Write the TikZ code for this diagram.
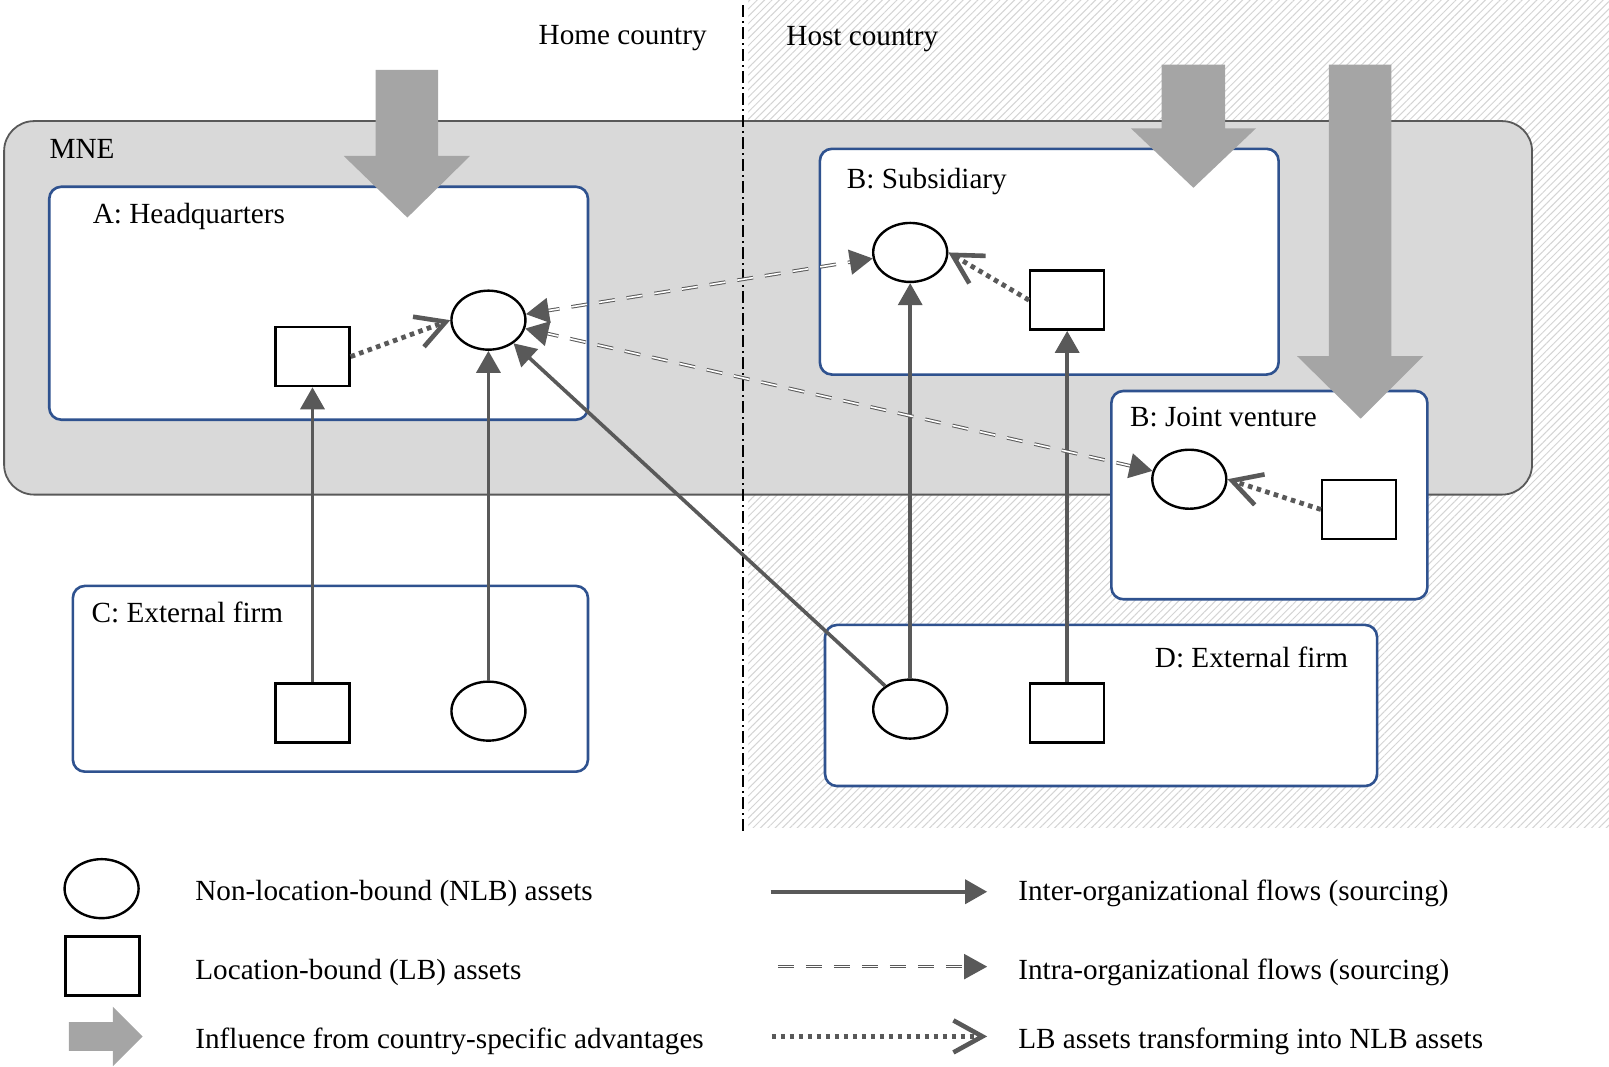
\documentclass[tikz,border=0pt]{standalone}
\usepackage{fontspec}
\setmainfont{Liberation Serif}
\usepackage{tikz}
\usetikzlibrary{shapes.geometric}
\usetikzlibrary{arrows.meta}
\usetikzlibrary{patterns.meta}
\usetikzlibrary{fit}
\usetikzlibrary{decorations.markings}
\definecolor{darkgrey}{RGB}{89,89,89}
\definecolor{midgrey}{RGB}{165,165,165}
\definecolor{lightgrey}{RGB}{217,217,217}
\definecolor{firmblue}{RGB}{47,82,143}
\tikzstyle{asset}=[draw=black, line width=1.2pt, fill=white, inner sep=0pt, minimum width=37pt, minimum height=29.5pt]
\tikzset{
  nlb/.style = {asset, ellipse},% non-location-bound
  lb/.style = {asset, rectangle},% location-bound
  firm/.style = {draw=firmblue, line width=1.3pt, fill=white, rounded corners=6pt, inner sep=0pt},
  mne/.style = {draw=darkgrey, line width=0.9pt, fill=lightgrey, rounded corners=15pt, inner sep=0pt},
  lbl/.style = {anchor=base west, inner sep=0pt},
  rlbl/.style = {anchor=base east, inner sep=0pt},
  csa/.style = {fill=midgrey},
  inter/.style = {draw=darkgrey, line width=1.8pt, -{Triangle[length=11pt,width=12pt]}},
  intra/.style = {draw=darkgrey, line width=0.5pt, double, double distance=0.8pt, dash pattern=on 8pt off 6pt, shorten >=9pt},
  intratip/.style = {postaction={decorate}, decoration={markings,
    mark=at position 1 with {\arrow[darkgrey, line width=1pt]{Triangle[length=11.5pt,width=12.5pt]}}}},
  trans/.style = {draw=darkgrey, line width=2.4pt, dash pattern=on 2.3pt off 2.2pt, -{Straight Barb[length=14.5pt,width=16pt,line width=2.3pt]}},
  country/.style = {draw=black, line width=0.6pt, dash pattern=on 6pt off 2pt on 1pt off 2pt},
}

\begin{document}
\begin{tikzpicture}[x=0.513pt, y=-0.513pt, font=\fontsize{14.6pt}{17pt}\selectfont]
\useasboundingbox (0,0) rectangle (1568,1039);

% host country background
\fill[pattern={Lines[angle=45, distance=2.6pt, line width=0.5pt]}, pattern color=black!17] (729,0) rectangle (1568,806);

% MNE
\node[mne, fit={(4,118) (1493,482)}] (mne) {};
\coordinate (ctop) at (724,5);
\coordinate (cbot) at (724,811);
\draw[country] (ctop) -- (cbot);

% firms
\node[firm, fit={(48,182) (573,409)}] (hq) {};
\node[firm, fit={(799,145) (1246,365)}] (sub) {};
\node[firm, fit={(1083,381) (1391,584)}] (jv) {};
\node[firm, fit={(71,571) (573,752)}] (extc) {};
\node[firm, fit={(804,609) (1342,766)}] (extd) {};

% assets
\node[nlb] (hqN) at (476,312) {};
\node[lb] (hqL) at (304.5,347.5) {};
\node[nlb] (subN) at (887,246) {};
\node[lb] (subL) at (1040,292.5) {};
\node[nlb] (jvN) at (1159,467) {};
\node[lb] (jvL) at (1324.5,496.5) {};
\node[nlb] (cN) at (476,693) {};
\node[lb] (cL) at (304.5,695) {};
\node[nlb] (dN) at (887,691) {};
\node[lb] (dL) at (1040,695) {};

% inter-organizational flows
\draw[inter] (cL) -- (hqL);
\draw[inter] (cN) -- (hqN);
\draw[inter] (dN) -- (hqN);
\draw[inter] (dN) -- (subN);
\draw[inter] (dL) -- (subL);

% intra-organizational flows
\draw[intra, shorten <=9pt] (hqN) -- (subN);
\path[intratip] (hqN) -- (subN);
\path[intratip] (subN) -- (hqN);
\draw[intra, shorten <=9pt] (hqN) -- (jvN);
\path[intratip] (hqN) -- (jvN);
\path[intratip] (jvN) -- (hqN);

% LB into NLB
\draw[trans] (hqL.east) -- (hqN.west);
\draw[trans] (subL.west) -- (subN.east);
\draw[trans] (jvL.west) -- (jvN.east);

% country-specific advantages
\fill[csa] (366,68) -- (427,68) -- (427,152) -- (458,152) -- (397,212) -- (335,152) -- (366,152) -- cycle;
\fill[csa] (1132,63) -- (1194,63) -- (1194,125) -- (1224,125) -- (1163,183) -- (1102,125) -- (1132,125) -- cycle;
\fill[csa] (1295,63) -- (1356,63) -- (1356,347) -- (1387,347) -- (1326,408) -- (1264,347) -- (1295,347) -- cycle;

% labels
\node[rlbl] (home) at (689,43) {Home country};
\node[lbl] (host) at (766,44) {Host country};
\node[lbl] (mnelbl) at (48,154) {MNE};
\node[lbl] (hqlbl) at (90,218) {A: Headquarters};
\node[lbl] (sublbl) at (825,184) {B: Subsidiary};
\node[lbl] (jvlbl) at (1101,416) {B: Joint venture};
\node[lbl] (clbl) at (89,607) {C: External firm};
\node[rlbl] (dlbl) at (1314,650) {D: External firm};

% legend
\node[nlb] (keyN) at (99,866) {};
\node[lb] (keyL) at (100,941.5) {};
\fill[csa] (67,996) -- (110,996) -- (110,981) -- (139,1010) -- (110,1039) -- (110,1024) -- (67,1024) -- cycle;
\node[lbl] (keyNt) at (190,878) {Non-location-bound (NLB) assets};
\node[lbl] (keyLt) at (190,955) {Location-bound (LB) assets};
\node[lbl] (keyAt) at (190,1022) {Influence from country-specific advantages};
\coordinate (k1a) at (751,869);
\coordinate (k1b) at (962,869);
\coordinate (k2a) at (758,942);
\coordinate (k2b) at (962,942);
\coordinate (k3a) at (752,1010);
\coordinate (k3b) at (962,1010);
\draw[inter] (k1a) -- (k1b);
\draw[intra] (k2a) -- (k2b);
\path[intratip] (k2a) -- (k2b);
\draw[trans] (k3a) -- (k3b);
\node[lbl] (k1t) at (992,878) {Inter-organizational flows (sourcing)};
\node[lbl] (k2t) at (992,955) {Intra-organizational flows (sourcing)};
\node[lbl] (k3t) at (992,1022) {LB assets transforming into NLB assets};
\end{tikzpicture}
\end{document}
